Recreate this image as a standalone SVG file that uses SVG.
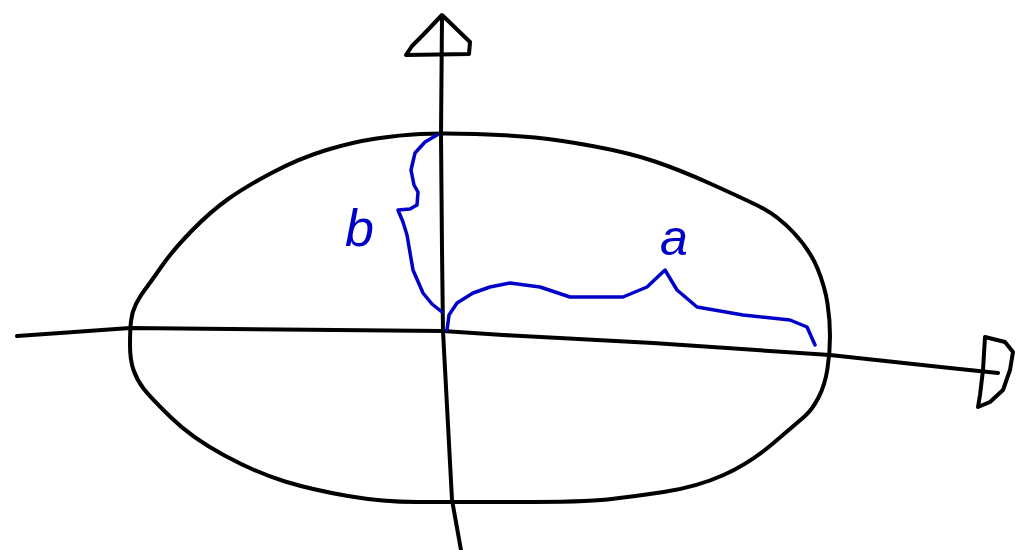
<svg xmlns="http://www.w3.org/2000/svg" width="1018" height="550" viewBox="0 0 1018 550">
<style>
.ink{fill:none;stroke:#000;stroke-width:4;stroke-linejoin:round;stroke-linecap:round}
.blue{fill:none;stroke:#0000c8;stroke-width:3.5;stroke-linejoin:round;stroke-linecap:round}
.lbl{fill:#0000c8;font-family:"Liberation Sans",Arial,sans-serif;font-style:italic}
</style>
<rect width="1018" height="550" fill="#fff"/>
<g id="ellipse">
<path class="ink" d="M130,345 Q130,330 131,321 Q132,312 136,304 Q140,296 145,289.5 Q150,283 161.5,266.5 Q173,250 191.5,231 Q210,212 227.5,199.5 Q245,187 272.5,172.5 Q300,158 326.5,150 Q353,142 376.5,138.5 Q400,135 420.5,134 Q441,133 475.5,134 Q510,135 535,137.5 Q560,140 595,146.5 Q630,153 655,161.5 Q680,170 710,183.5 Q740,197 758.5,206 Q777,215 793.5,232.5 Q810,250 817.5,268.5 Q825,287 827.5,303.5 Q830,320 830,336 Q830,352 827.5,368.5 Q825,385 818.5,397.5 Q812,410 804.5,416.5 Q797,423 773.5,443 Q750,463 723.5,475 Q697,487 663.5,492 Q630,497 607.5,499.5 Q585,502 517.5,502 Q450,502 416.5,502 Q383,502 348,496 Q313,490 285,481.5 Q257,473 224.5,455.5 Q192,438 171,417.5 Q150,397 143.5,388.5 Q137,380 133.5,370 Q130,360 130,345 Z"/>
</g>
<g id="connectors">
<path id="x-axis" class="ink" d="M17,336 L60,333 L130,328 L443,331 L503,335 L653,343 L830,355 L950,368 L998,373"/>
<path id="y-axis" class="ink" d="M442,17 L441,135 L442,250 L443,331 L452,500 L461,550"/>
<path id="x-arrow" class="ink" d="M985,337 L1005,342 L1013,352 L1010,370 L1003,390 L990,402 L978,407 L980,395 L983,370 Z"/>
<path id="y-arrow" class="ink" d="M406,55 L412,46 L423,35 L442,15 L470,42 L469,54 Z"/>
</g>
<g id="brace-b">
<path class="blue" d="M437,135 L425,142 L415,153 L411,170 L414,185 L418,192 L417,205 L410,209 L398,210 L403,222 L407,235 L413,270 L423,293 L432,304 L442,312"/>
<text class="lbl" x="345" y="246" font-size="52">b</text>
</g>
<g id="brace-a">
<path class="blue" d="M447,330 L449,315 L457,303 L473,293 L490,287 L510,283 L540,287 L570,297 L623,297 L647,287 L665,270 L677,290 L697,307 L743,315 L790,320 L807,327 L815,345"/>
<text class="lbl" x="660" y="255" font-size="50">a</text>
</g>
</svg>
